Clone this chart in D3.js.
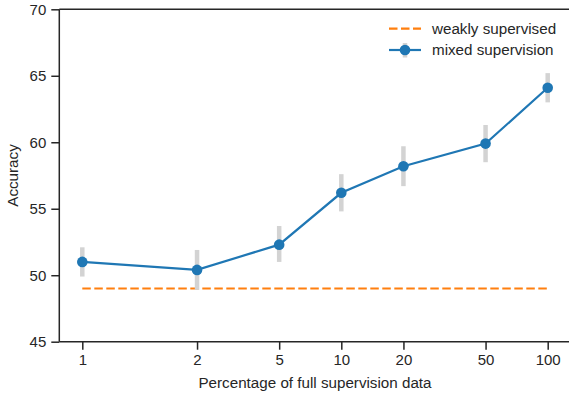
<!DOCTYPE html>
<html lang="en">
<head>
<meta charset="utf-8">
<script src="https://d3js.org/d3.v7.min.js"></script>
<style>
  body { margin: 0; background: white; }
  svg { font-family: "Liberation Sans", Arial, sans-serif; }
</style>
</head>
<body>
<div id="chart"></div>
<script>
// x positions on the log axis (first point sits left of 1 in the original) and its labels
const xPos = [0.556, 2, 5, 10, 20, 50, 100];
const xLabels = ["1", "2", "5", "10", "20", "50", "100"];
const mixed = [51.0, 50.4, 52.3, 56.2, 58.2, 59.9, 64.1];
const mixedLow = [49.9, 48.9, 51.0, 54.8, 56.7, 58.5, 63.0];
const mixedHigh = [52.1, 51.9, 53.7, 57.6, 59.7, 61.3, 65.2];
const weakly = 49.0;
const yTicks = [45, 50, 55, 60, 65, 70];

const w = 569, h = 394;
const svg = d3.select("#chart").append("svg")
    .attr("width", w).attr("height", h);

const x = d3.scaleLog().domain([0.556, 100]).range([82.3, 547.7]);
const y = d3.scaleLinear().domain([45, 70]).range([341.7, 9.3]);

const axisColor = "#262626";
const labelSize = 15.2;

// frame: top, left and bottom spines (figure is cropped on the right)
svg.append("line").attr("x1", 59.3).attr("x2", w).attr("y1", y(70)).attr("y2", y(70))
    .attr("stroke", axisColor).attr("stroke-width", 1.5);

const yAxis = svg.append("g")
    .attr("transform", "translate(59.3,0)")
    .call(d3.axisLeft(y).tickValues(yTicks).tickSize(8).tickPadding(5));
yAxis.select(".domain").attr("d", `M0,${y(45)}V${y(70)}`);

const xAxis = svg.append("g")
    .attr("transform", `translate(0,${y(45)})`)
    .call(d3.axisBottom(x).tickValues(xPos).tickFormat((d, i) => xLabels[i]).tickSize(8).tickPadding(5));
xAxis.select(".domain").attr("d", `M59.3,0H${w}`);

svg.selectAll(".tick text").attr("font-size", 15).attr("fill", axisColor);
svg.selectAll(".domain, .tick line").attr("stroke", axisColor).attr("stroke-width", 1.5);

svg.append("text")
    .attr("transform", `translate(18,${(y(45) + y(70)) / 2}) rotate(-90)`)
    .attr("text-anchor", "middle")
    .attr("font-size", labelSize)
    .attr("fill", axisColor)
    .text("Accuracy");

svg.append("text")
    .attr("x", 315).attr("y", 388)
    .attr("text-anchor", "middle")
    .attr("font-size", labelSize)
    .attr("fill", axisColor)
    .text("Percentage of full supervision data");

// weakly supervised baseline
svg.append("line")
    .attr("x1", x(xPos[0])).attr("x2", x(xPos[xPos.length - 1]))
    .attr("y1", y(weakly)).attr("y2", y(weakly))
    .attr("stroke", "#ff7f0e").attr("stroke-width", 2.2)
    .attr("stroke-dasharray", "8.5,3.5");

// error bars
svg.selectAll(".err").data(xPos).enter().append("line")
    .attr("x1", d => x(d)).attr("x2", d => x(d))
    .attr("y1", (d, i) => y(mixedLow[i])).attr("y2", (d, i) => y(mixedHigh[i]))
    .attr("stroke", "#d3d3d3").attr("stroke-width", 4.5);

const line = d3.line().x(d => x(d[0])).y(d => y(d[1]));
svg.append("path")
    .datum(xPos.map((d, i) => [d, mixed[i]]))
    .attr("d", line)
    .attr("fill", "none")
    .attr("stroke", "#1f77b4")
    .attr("stroke-width", 2.2);

svg.selectAll(".pt").data(xPos).enter().append("circle")
    .attr("cx", d => x(d)).attr("cy", (d, i) => y(mixed[i]))
    .attr("r", 5.3)
    .attr("fill", "#1f77b4");

// legend
const lg = svg.append("g").attr("transform", "translate(389,0)");
lg.append("line").attr("x1", 0).attr("x2", 32).attr("y1", 28.7).attr("y2", 28.7)
    .attr("stroke", "#ff7f0e").attr("stroke-width", 2.2).attr("stroke-dasharray", "8.5,3.5");
lg.append("line").attr("x1", 16).attr("x2", 16).attr("y1", 43).attr("y2", 57.5)
    .attr("stroke", "#d3d3d3").attr("stroke-width", 4.5);
lg.append("line").attr("x1", 0).attr("x2", 32).attr("y1", 50).attr("y2", 50)
    .attr("stroke", "#1f77b4").attr("stroke-width", 2.2);
lg.append("circle").attr("cx", 16).attr("cy", 50).attr("r", 5.3).attr("fill", "#1f77b4");
lg.append("text").attr("x", 43).attr("y", 28.7).attr("dy", "0.35em")
    .attr("font-size", labelSize).attr("fill", axisColor).text("weakly supervised");
lg.append("text").attr("x", 43).attr("y", 50).attr("dy", "0.35em")
    .attr("font-size", labelSize).attr("fill", axisColor).text("mixed supervision");
</script>
</body>
</html>
